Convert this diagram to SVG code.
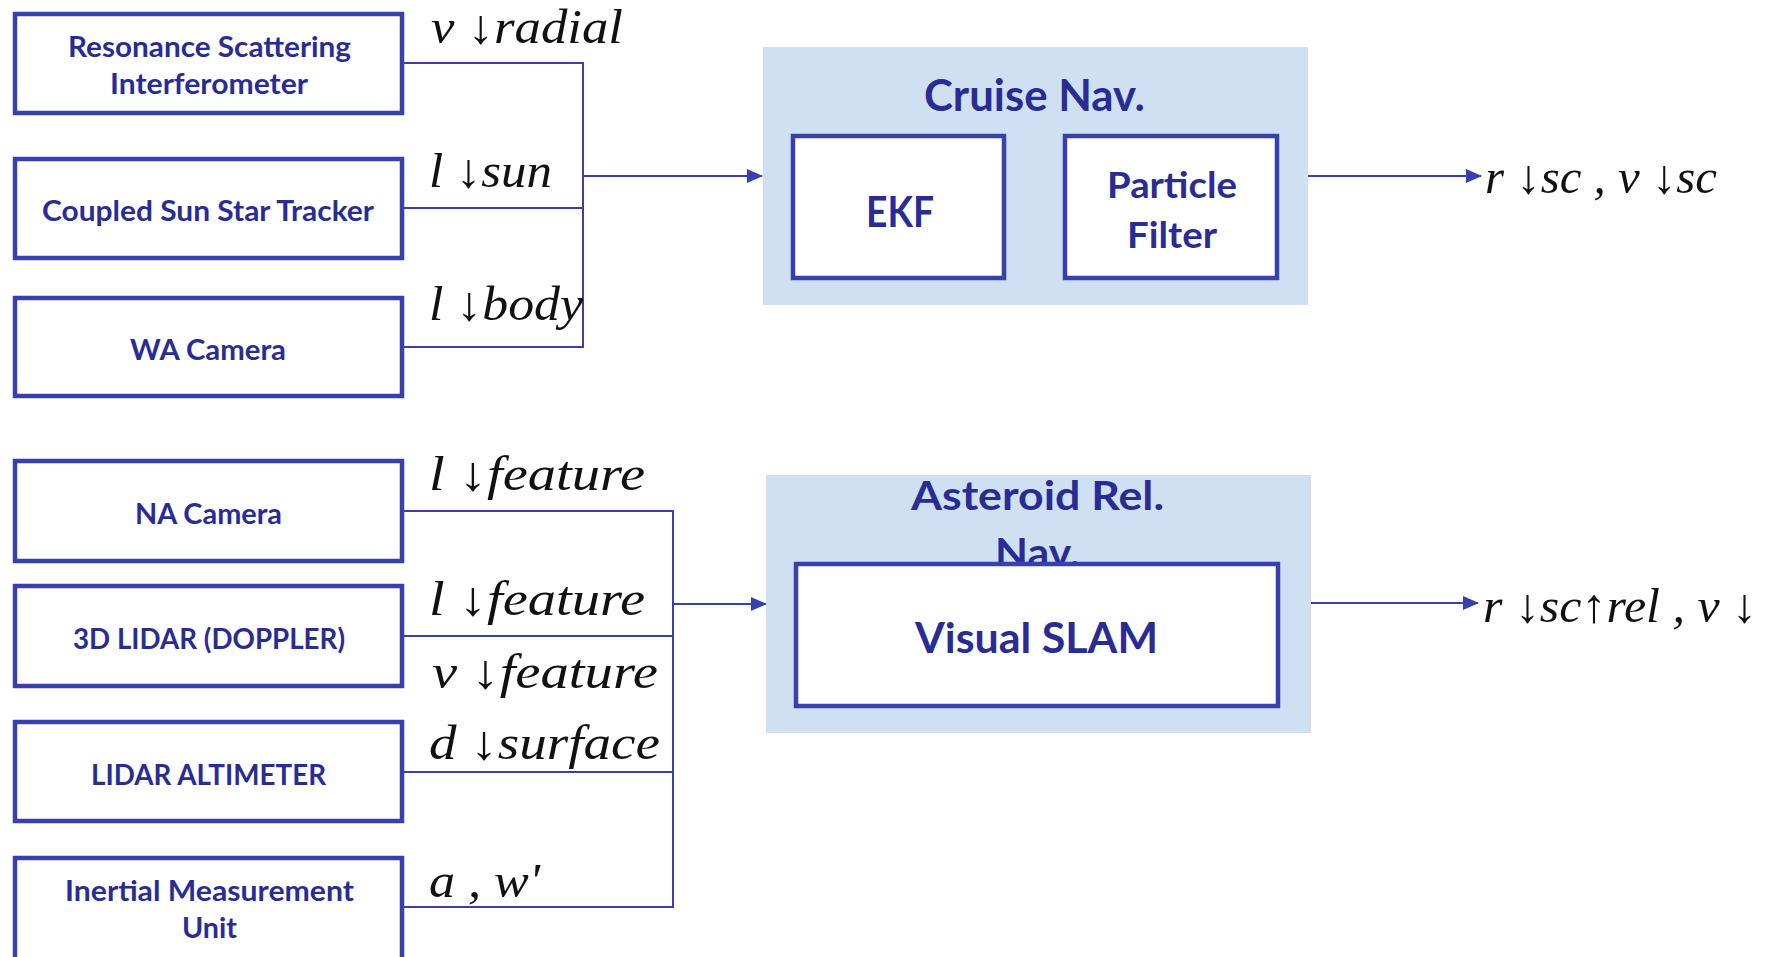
<svg xmlns="http://www.w3.org/2000/svg" width="1785" height="957" viewBox="0 0 1785 957">
<style>
.box{fill:#fff;stroke:#3840AE;stroke-width:4.5}
.grp{fill:#CFE0F2}
.lbl{font-family:Lato,"Open Sans","Liberation Sans",sans-serif;font-weight:bold;fill:#2A2C95}
.s28{font-size:28px}
.math{font-family:"Liberation Serif",serif;font-style:italic;font-size:48px;fill:#111}
.ln{fill:none;stroke:#3840AE;stroke-width:2}
</style>
<defs>
<marker id="ah2" markerWidth="16" markerHeight="14" refX="15" refY="7" orient="auto" markerUnits="userSpaceOnUse" viewBox="0 0 16 14">
<path d="M0,0 L16,7 L0,14 z" fill="#3840AE"/>
</marker>
<clipPath id="clipR"><rect x="0" y="0" width="1762" height="957"/></clipPath>
</defs>

<g id="connectors">
<path class="ln" d="M404,63 H583 V347 H404"/>
<path class="ln" d="M404,208 H583"/>
<path class="ln" d="M583,176 H762" marker-end="url(#ah2)"/>
<path class="ln" d="M404,511 H673 V907 H404"/>
<path class="ln" d="M404,636 H673"/>
<path class="ln" d="M404,772 H673"/>
<path class="ln" d="M673,604 H766" marker-end="url(#ah2)"/>
<path class="ln" d="M1308,176 H1481" marker-end="url(#ah2)"/>
<path class="ln" d="M1311,603 H1478" marker-end="url(#ah2)"/>
</g>

<g id="labels">
<text class="math" x="431" y="43" textLength="192" lengthAdjust="spacingAndGlyphs">v ↓radial</text>
<text class="math" x="429" y="187" textLength="123" lengthAdjust="spacingAndGlyphs">l ↓sun</text>
<text class="math" x="429" y="320" textLength="154" lengthAdjust="spacingAndGlyphs">l ↓body</text>
<text class="math" x="429" y="490" textLength="216" lengthAdjust="spacingAndGlyphs">l ↓feature</text>
<text class="math" x="429" y="615" textLength="216" lengthAdjust="spacingAndGlyphs">l ↓feature</text>
<text class="math" x="432" y="688" textLength="226" lengthAdjust="spacingAndGlyphs">v ↓feature</text>
<text class="math" x="429" y="759" textLength="231" lengthAdjust="spacingAndGlyphs">d ↓surface</text>
<text class="math" x="429" y="897" textLength="111" lengthAdjust="spacingAndGlyphs">a , w'</text>
<text class="math" x="1485" y="193" textLength="232" lengthAdjust="spacingAndGlyphs">r ↓sc , v ↓sc</text>
<text class="math" x="1483" y="622" textLength="274" lengthAdjust="spacingAndGlyphs" clip-path="url(#clipR)">r ↓sc↑rel , v ↓</text>
</g>

<g id="rsi">
<rect class="box" x="15" y="14" width="387" height="99"/>
<text class="lbl s28" x="68" y="57" textLength="283" lengthAdjust="spacingAndGlyphs">Resonance Scattering</text>
<text class="lbl s28" x="110" y="94" textLength="198" lengthAdjust="spacingAndGlyphs">Interferometer</text>
</g>
<g id="csst">
<rect class="box" x="15" y="159" width="387" height="99"/>
<text class="lbl s28" x="42" y="221" textLength="332" lengthAdjust="spacingAndGlyphs">Coupled Sun Star Tracker</text>
</g>
<g id="wacam">
<rect class="box" x="15" y="298" width="387" height="98"/>
<text class="lbl s28" x="130" y="360" textLength="156" lengthAdjust="spacingAndGlyphs">WA Camera</text>
</g>
<g id="nacam">
<rect class="box" x="15" y="461" width="387" height="100"/>
<text class="lbl s28" x="135" y="524" textLength="147" lengthAdjust="spacingAndGlyphs">NA Camera</text>
</g>
<g id="lidar3d">
<rect class="box" x="15" y="586" width="387" height="100"/>
<text class="lbl s28" x="73" y="649" textLength="272" lengthAdjust="spacingAndGlyphs">3D LIDAR (DOPPLER)</text>
</g>
<g id="altimeter">
<rect class="box" x="15" y="722" width="387" height="99"/>
<text class="lbl s28" x="91" y="785" textLength="235" lengthAdjust="spacingAndGlyphs">LIDAR ALTIMETER</text>
</g>
<g id="imu">
<rect class="box" x="15" y="858" width="387" height="110"/>
<text class="lbl s28" x="65" y="901" textLength="289" lengthAdjust="spacingAndGlyphs">Inertial Measurement</text>
<text class="lbl s28" x="182" y="938" textLength="55" lengthAdjust="spacingAndGlyphs">Unit</text>
</g>

<g id="cruise">
<rect class="grp" x="763" y="47" width="545" height="258"/>
<text class="lbl" font-size="43" x="924" y="111" textLength="221" lengthAdjust="spacingAndGlyphs">Cruise Nav.</text>
<g id="ekf">
<rect class="box" x="793" y="136" width="211" height="142"/>
<text class="lbl" font-size="42" x="866" y="227" textLength="68" lengthAdjust="spacingAndGlyphs">EKF</text>
</g>
<g id="pf">
<rect class="box" x="1065" y="136" width="212" height="142"/>
<text class="lbl" font-size="36" x="1107" y="198" textLength="130" lengthAdjust="spacingAndGlyphs">Particle</text>
<text class="lbl" font-size="36" x="1127" y="248" textLength="90" lengthAdjust="spacingAndGlyphs">Filter</text>
</g>
</g>

<g id="asteroid">
<rect class="grp" x="766" y="475" width="545" height="258"/>
<text class="lbl" font-size="41" x="911" y="510" textLength="253" lengthAdjust="spacingAndGlyphs">Asteroid Rel.</text>
<text class="lbl" font-size="41" x="995" y="567" textLength="85" lengthAdjust="spacingAndGlyphs">Nav.</text>
<g id="slam">
<rect class="box" x="796" y="564" width="482" height="142"/>
<text class="lbl" font-size="42" x="915" y="653" textLength="243" lengthAdjust="spacingAndGlyphs">Visual SLAM</text>
</g>
</g>
</svg>
